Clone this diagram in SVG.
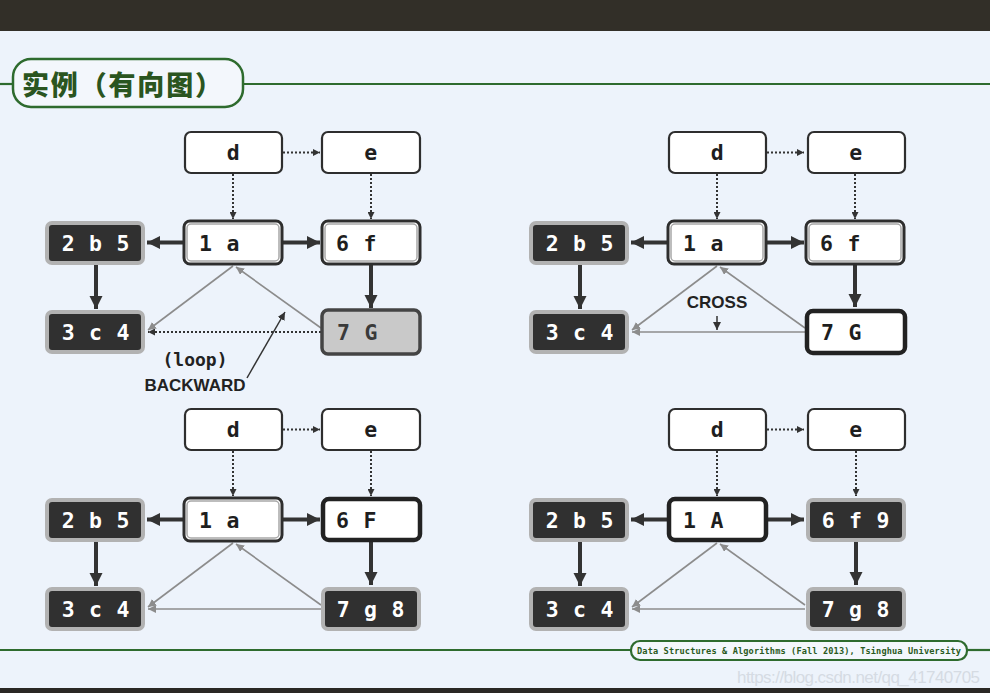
<svg xmlns="http://www.w3.org/2000/svg" width="990" height="693" viewBox="0 0 990 693">
<defs>
<style>
.bg{fill:#edf3fb}
.box{fill:#ffffff;stroke:#2e2e2e;stroke-width:2.2}
.vis{fill:#ffffff;stroke:#2e2e2e;stroke-width:3}
.visin{fill:none;stroke:#a8a8a8;stroke-width:1.5}
.done{fill:#303030;stroke:#b2b2b2;stroke-width:4}
.cur{fill:#ffffff;stroke:#222222;stroke-width:4.5}
.grey{fill:#c9c9c9;stroke:#444444;stroke-width:3.5}
.t{font-family:"DejaVu Sans Mono","Liberation Mono",monospace;font-weight:bold;font-size:21.5px;letter-spacing:0.8px;fill:#1e1e1e}
.tw{fill:#ffffff}
.tg{fill:#3a3a3a}
.thick{stroke:#333333;stroke-width:4;fill:none;marker-end:url(#hThick)}
.dot{stroke:#333333;stroke-width:2;stroke-dasharray:2 2;fill:none;marker-end:url(#hDot)}
.thin{stroke:#8c8c8c;stroke-width:1.6;fill:none;marker-end:url(#hThin)}
.ptr{stroke:#333333;stroke-width:1.5;fill:none;marker-end:url(#hPtr)}
.lbl{font-family:"Liberation Sans",Arial,sans-serif;font-weight:bold;font-size:17px;fill:#222222}
.green{stroke:#2e6b2e;fill:none}
</style>
<marker id="hThick" viewBox="0 0 10 10" refX="10" refY="5" markerUnits="userSpaceOnUse" markerWidth="13" markerHeight="15" orient="auto"><path d="M0,0 L10,5 L0,10 z" fill="#333333"/></marker>
<marker id="hDot" viewBox="0 0 10 10" refX="10" refY="5" markerUnits="userSpaceOnUse" markerWidth="7" markerHeight="7" orient="auto"><path d="M0,0 L10,5 L0,10 z" fill="#333333"/></marker>
<marker id="hThin" viewBox="0 0 10 10" refX="10" refY="5" markerUnits="userSpaceOnUse" markerWidth="8" markerHeight="8" orient="auto"><path d="M0,0 L10,5 L0,10 z" fill="#8c8c8c"/></marker>
<marker id="hPtr" viewBox="0 0 10 10" refX="10" refY="5" markerUnits="userSpaceOnUse" markerWidth="8" markerHeight="8" orient="auto"><path d="M0,0 L10,5 L0,10 z" fill="#333333"/></marker>
</defs>
<rect class="bg" x="0" y="0" width="990" height="693"/>
<rect x="0" y="0" width="990" height="31" fill="#322f28"/>
<rect x="0" y="688" width="990" height="5" fill="#2a2824"/>

<g id="title">
<line class="green" x1="0" y1="84" x2="13" y2="84" stroke-width="2.2"/>
<line class="green" x1="243" y1="84" x2="990" y2="84" stroke-width="2.2"/>
<rect x="13" y="59" width="230" height="48" rx="18" fill="#f3f7fc" stroke="#2e6b2e" stroke-width="2.5"/>
<text x="22" y="95" font-family="'Noto Sans CJK SC','Noto Sans CJK JP',sans-serif" font-weight="900" font-size="27" fill="#2a5520" textLength="200">实例（有向图）</text>
</g>

<g id="footer">
<line class="green" x1="0" y1="650" x2="631" y2="650" stroke-width="2.2"/>
<line class="green" x1="967" y1="650" x2="990" y2="650" stroke-width="2.2"/>
<rect x="631" y="641" width="336" height="19" rx="9" fill="#f3f7fc" stroke="#2e6b2e" stroke-width="2.2"/>
<text x="637" y="654" font-family="'DejaVu Sans Mono',monospace" font-weight="bold" font-size="8.6" fill="#2a5a22" textLength="324">Data Structures &amp; Algorithms (Fall 2013), Tsinghua University</text>
<text x="737" y="683" font-family="'Liberation Sans',Arial,sans-serif" font-size="17" fill="#d5dbe3" textLength="243">https://blog.csdn.net/qq_41740705</text>
</g>

<!-- Panel 1 (top-left) -->
<g id="panel1">
<g id="p1-edges">
<line class="dot" x1="283" y1="152.5" x2="320" y2="152.5"/>
<line class="dot" x1="233" y1="174" x2="233" y2="219"/>
<line class="dot" x1="371" y1="174" x2="371" y2="219"/>
<line class="thick" x1="184" y1="242.5" x2="147" y2="242.5"/>
<line class="thick" x1="282" y1="242.5" x2="320" y2="242.5"/>
<line class="thick" x1="96" y1="264" x2="96" y2="309"/>
<line class="thick" x1="371" y1="265" x2="371" y2="308"/>
<line class="thin" x1="233" y1="266" x2="148" y2="330"/>
<line class="thin" x1="321" y1="328" x2="236" y2="267"/>
<line class="dot" x1="321" y1="332" x2="148" y2="332"/>
<line class="ptr" x1="247" y1="378" x2="285" y2="312"/>
</g>
<g id="p1-d"><rect class="box" x="185" y="132" width="97" height="41" rx="6"/><text class="t" x="233.5" y="160" text-anchor="middle">d</text></g>
<g id="p1-e"><rect class="box" x="322" y="132" width="98" height="41" rx="6"/><text class="t" x="371" y="160" text-anchor="middle">e</text></g>
<g id="p1-2b5"><rect class="done" x="47" y="223" width="96" height="40" rx="5"/><text class="t tw" x="96" y="250.5" text-anchor="middle">2 b 5</text></g>
<g id="p1-1a"><rect class="vis" x="184" y="221" width="98" height="43" rx="6"/><rect class="visin" x="187" y="224" width="92" height="37" rx="4"/><text class="t" x="199" y="250.5">1 a</text></g>
<g id="p1-6f"><rect class="vis" x="322" y="221" width="98" height="43" rx="6"/><rect class="visin" x="325" y="224" width="92" height="37" rx="4"/><text class="t" x="336" y="250.5">6 f</text></g>
<g id="p1-3c4"><rect class="done" x="47" y="312" width="96" height="40" rx="5"/><text class="t tw" x="96" y="339.5" text-anchor="middle">3 c 4</text></g>
<g id="p1-7G"><rect class="grey" x="322" y="310" width="98" height="44" rx="6"/><text class="t tg" x="337" y="339.5">7 G</text></g>
<g id="p1-labels">
<text x="195" y="366" text-anchor="middle" font-family="'DejaVu Sans Mono',monospace" font-weight="bold" font-size="18" fill="#222222">(loop)</text>
<text class="lbl" x="195" y="391" text-anchor="middle">BACKWARD</text>
</g>
</g>

<!-- Panel 2 (top-right) -->
<g id="panel2" transform="translate(484,0)">
<g id="p2-edges">
<line class="dot" x1="283" y1="152.5" x2="320" y2="152.5"/>
<line class="dot" x1="233" y1="174" x2="233" y2="219"/>
<line class="dot" x1="371" y1="174" x2="371" y2="219"/>
<line class="thick" x1="184" y1="242.5" x2="147" y2="242.5"/>
<line class="thick" x1="282" y1="242.5" x2="320" y2="242.5"/>
<line class="thick" x1="96" y1="264" x2="96" y2="309"/>
<line class="thick" x1="371" y1="265" x2="371" y2="307"/>
<line class="thin" x1="233" y1="266" x2="148" y2="330"/>
<line class="thin" x1="321" y1="328" x2="236" y2="267"/>
<line class="thin" x1="321" y1="332" x2="148" y2="332"/>
<line class="ptr" x1="233" y1="316" x2="233" y2="330"/>
</g>
<g id="p2-d"><rect class="box" x="185" y="132" width="97" height="41" rx="6"/><text class="t" x="233.5" y="160" text-anchor="middle">d</text></g>
<g id="p2-e"><rect class="box" x="324" y="132" width="97" height="41" rx="6"/><text class="t" x="372" y="160" text-anchor="middle">e</text></g>
<g id="p2-2b5"><rect class="done" x="47" y="223" width="96" height="40" rx="5"/><text class="t tw" x="96" y="250.5" text-anchor="middle">2 b 5</text></g>
<g id="p2-1a"><rect class="vis" x="184" y="221" width="98" height="43" rx="6"/><rect class="visin" x="187" y="224" width="92" height="37" rx="4"/><text class="t" x="199" y="250.5">1 a</text></g>
<g id="p2-6f"><rect class="vis" x="322" y="221" width="98" height="43" rx="6"/><rect class="visin" x="325" y="224" width="92" height="37" rx="4"/><text class="t" x="336" y="250.5">6 f</text></g>
<g id="p2-3c4"><rect class="done" x="47" y="312" width="96" height="40" rx="5"/><text class="t tw" x="96" y="339.5" text-anchor="middle">3 c 4</text></g>
<g id="p2-7G"><rect class="cur" x="323" y="311" width="98" height="42" rx="6"/><text class="t" x="337" y="339.5">7 G</text></g>
<g id="p2-labels"><text class="lbl" x="233" y="308" text-anchor="middle">CROSS</text></g>
</g>

<!-- Panel 3 (bottom-left) -->
<g id="panel3" transform="translate(0,277)">
<g id="p3-edges">
<line class="dot" x1="283" y1="152.5" x2="320" y2="152.5"/>
<line class="dot" x1="233" y1="174" x2="233" y2="219"/>
<line class="dot" x1="371" y1="174" x2="371" y2="219"/>
<line class="thick" x1="184" y1="242.5" x2="147" y2="242.5"/>
<line class="thick" x1="282" y1="242.5" x2="320" y2="242.5"/>
<line class="thick" x1="96" y1="264" x2="96" y2="309"/>
<line class="thick" x1="371" y1="265" x2="371" y2="308"/>
<line class="thin" x1="233" y1="266" x2="148" y2="330"/>
<line class="thin" x1="321" y1="328" x2="236" y2="267"/>
<line class="thin" x1="321" y1="332" x2="148" y2="332"/>
</g>
<g id="p3-d"><rect class="box" x="185" y="132" width="97" height="41" rx="6"/><text class="t" x="233.5" y="160" text-anchor="middle">d</text></g>
<g id="p3-e"><rect class="box" x="322" y="132" width="98" height="41" rx="6"/><text class="t" x="371" y="160" text-anchor="middle">e</text></g>
<g id="p3-2b5"><rect class="done" x="47" y="223" width="96" height="40" rx="5"/><text class="t tw" x="96" y="250.5" text-anchor="middle">2 b 5</text></g>
<g id="p3-1a"><rect class="vis" x="184" y="221" width="98" height="43" rx="6"/><rect class="visin" x="187" y="224" width="92" height="37" rx="4"/><text class="t" x="199" y="250.5">1 a</text></g>
<g id="p3-6F"><rect class="cur" x="323" y="222" width="97" height="41" rx="6"/><text class="t" x="336" y="250.5">6 F</text></g>
<g id="p3-3c4"><rect class="done" x="47" y="312" width="96" height="40" rx="5"/><text class="t tw" x="96" y="339.5" text-anchor="middle">3 c 4</text></g>
<g id="p3-7g8"><rect class="done" x="323" y="312" width="96" height="40" rx="5"/><text class="t tw" x="371" y="339.5" text-anchor="middle">7 g 8</text></g>
</g>

<!-- Panel 4 (bottom-right) -->
<g id="panel4" transform="translate(484,277)">
<g id="p4-edges">
<line class="dot" x1="283" y1="152.5" x2="320" y2="152.5"/>
<line class="dot" x1="233" y1="174" x2="233" y2="219"/>
<line class="dot" x1="372" y1="174" x2="372" y2="219"/>
<line class="thick" x1="184" y1="242.5" x2="147" y2="242.5"/>
<line class="thick" x1="282" y1="242.5" x2="320" y2="242.5"/>
<line class="thick" x1="96" y1="264" x2="96" y2="309"/>
<line class="thick" x1="372" y1="265" x2="372" y2="308"/>
<line class="thin" x1="233" y1="266" x2="148" y2="330"/>
<line class="thin" x1="321" y1="328" x2="236" y2="267"/>
<line class="thin" x1="321" y1="332" x2="148" y2="332"/>
</g>
<g id="p4-d"><rect class="box" x="185" y="132" width="97" height="41" rx="6"/><text class="t" x="233.5" y="160" text-anchor="middle">d</text></g>
<g id="p4-e"><rect class="box" x="324" y="132" width="97" height="41" rx="6"/><text class="t" x="372" y="160" text-anchor="middle">e</text></g>
<g id="p4-2b5"><rect class="done" x="47" y="223" width="96" height="40" rx="5"/><text class="t tw" x="96" y="250.5" text-anchor="middle">2 b 5</text></g>
<g id="p4-1A"><rect class="cur" x="185" y="222" width="97" height="41" rx="6"/><text class="t" x="199" y="250.5">1 A</text></g>
<g id="p4-6f9"><rect class="done" x="324" y="223" width="96" height="40" rx="5"/><text class="t tw" x="372" y="250.5" text-anchor="middle">6 f 9</text></g>
<g id="p4-3c4"><rect class="done" x="47" y="312" width="96" height="40" rx="5"/><text class="t tw" x="96" y="339.5" text-anchor="middle">3 c 4</text></g>
<g id="p4-7g8"><rect class="done" x="324" y="312" width="96" height="40" rx="5"/><text class="t tw" x="372" y="339.5" text-anchor="middle">7 g 8</text></g>
</g>
</svg>
